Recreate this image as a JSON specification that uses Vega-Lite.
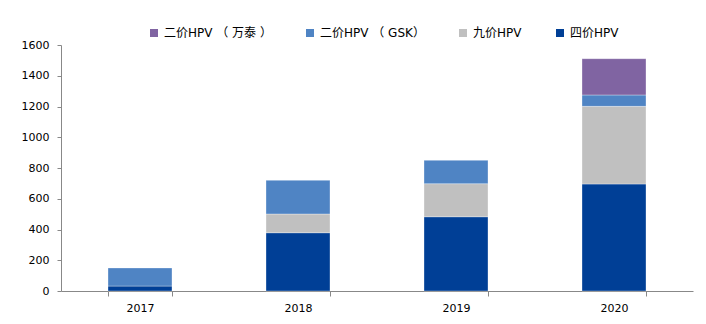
{
  "$schema": "https://vega.github.io/schema/vega-lite/v6.json",
  "width": 632,
  "height": 246,
  "autosize": "none",
  "padding": {"left": 61, "top": 45, "right": 13, "bottom": 33},
  "background": "white",
  "datasets": {
    "series": [
      {"type": "四价HPV", "stackRank": 1},
      {"type": "九价HPV", "stackRank": 2},
      {"type": "二价HPV （ GSK）", "stackRank": 3},
      {"type": "二价HPV （ 万泰 ）", "stackRank": 4}
    ]
  },
  "data": {"values": [
    {"year": "2017", "type": "四价HPV", "value": 32},
    {"year": "2017", "type": "二价HPV （ GSK）", "value": 118},
    {"year": "2018", "type": "四价HPV", "value": 379},
    {"year": "2018", "type": "九价HPV", "value": 122},
    {"year": "2018", "type": "二价HPV （ GSK）", "value": 219},
    {"year": "2019", "type": "四价HPV", "value": 483},
    {"year": "2019", "type": "九价HPV", "value": 215},
    {"year": "2019", "type": "二价HPV （ GSK）", "value": 152},
    {"year": "2020", "type": "四价HPV", "value": 696},
    {"year": "2020", "type": "九价HPV", "value": 505},
    {"year": "2020", "type": "二价HPV （ GSK）", "value": 74},
    {"year": "2020", "type": "二价HPV （ 万泰 ）", "value": 236}
  ]},
  "transform": [
    {"lookup": "type", "from": {"data": {"name": "series"}, "key": "type", "fields": ["stackRank"]}}
  ],
  "config": {
    "view": {"stroke": null},
    "font": "Verdana, DejaVu Sans, Noto Sans CJK SC"
  },
  "mark": {"type": "bar", "stroke": "white", "strokeOpacity": 0.4, "strokeWidth": 0.8},
  "encoding": {
    "x": {
      "field": "year", "type": "ordinal",
      "scale": {"paddingInner": 0.595, "paddingOuter": 0.2975},
      "axis": {
        "title": null, "labelAngle": 0, "labelFontSize": 11, "labelColor": "#000",
        "labelFont": "Verdana, DejaVu Sans", "labelPadding": 6,
        "domainColor": "#888", "tickColor": "#888", "tickBand": "extent", "tickSize": 5
      }
    },
    "y": {
      "field": "value", "type": "quantitative", "stack": "zero",
      "scale": {"domain": [0, 1600], "nice": false},
      "axis": {
        "title": null, "values": [0, 200, 400, 600, 800, 1000, 1200, 1400, 1600],
        "format": "d",
        "grid": false, "labelFontSize": 11, "labelColor": "#000",
        "labelFont": "Verdana, DejaVu Sans", "labelPadding": 8,
        "domainColor": "#888", "tickColor": "#888", "tickSize": 4
      }
    },
    "order": {"field": "stackRank", "type": "quantitative", "sort": "ascending"},
    "color": {
      "field": "type", "type": "nominal",
      "scale": {
        "domain": ["二价HPV （ 万泰 ）", "二价HPV （ GSK）", "九价HPV", "四价HPV"],
        "range": ["#8064a2", "#4f84c4", "#c0c0c0", "#003f96"]
      },
      "legend": {
        "title": null, "orient": "none", "direction": "horizontal",
        "legendX": 87, "legendY": -18,
        "symbolType": "square", "symbolSize": 64, "symbolStrokeWidth": 0,
        "labelFontSize": 12, "labelColor": "#000", "columnPadding": 32,
        "labelFont": "Verdana, DejaVu Sans, Noto Sans CJK SC"
      }
    }
  }
}
